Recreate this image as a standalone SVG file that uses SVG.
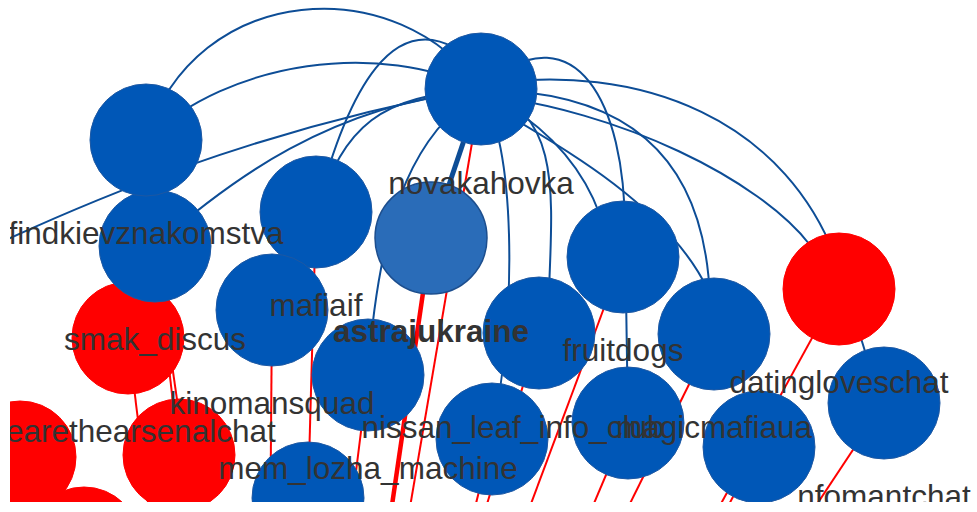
<svg xmlns="http://www.w3.org/2000/svg" width="977" height="512" viewBox="0 0 977 512">
<defs>
<clipPath id="view"><rect x="10" y="0" width="967" height="502"/></clipPath>
</defs>
<style>
.eb{fill:none;stroke:#0d4d96;stroke-width:2}
.ebt{fill:none;stroke:#0d4d96;stroke-width:5}
.er{fill:none;stroke:#ff0000;stroke-width:2}
.ert{fill:none;stroke:#ff0000;stroke-width:4.5}
.nb{fill:#0057b7;stroke:#1d58a3;stroke-width:1}
.nh{fill:#2a6cb8;stroke:#1c4e8e;stroke-width:1.5}
.nr{fill:#ff0000;stroke:#ff0000;stroke-width:1}
.lb{font-family:"Liberation Sans",Arial,sans-serif;font-size:31.5px;fill:#333333;text-anchor:middle}
.bold{font-weight:bold}
</style>
<rect width="977" height="512" fill="#ffffff"/>
<g clip-path="url(#view)">
<g id="connectors">
<path class="er" d="M481,90 L401,560"/>
<path class="ert" d="M431,238 L384,560"/>
<path class="er" d="M316,212 L308,498"/>
<path class="er" d="M272,310 L270,560"/>
<path class="er" d="M155,246 L179,455"/>
<path class="er" d="M155,246 L200,560"/>
<path class="er" d="M128,338 L155,560"/>
<path class="er" d="M368,375 L345,560"/>
<path class="er" d="M623,257 L510,560"/>
<path class="er" d="M539,333 L470,560"/>
<path class="er" d="M492,439 L462,560"/>
<path class="er" d="M714,334 L602,560"/>
<path class="er" d="M628,423 L570,560"/>
<path class="er" d="M839,289 L690,560"/>
<path class="er" d="M759,447 L700,560"/>
<path class="er" d="M884,403 L780,560"/>
<path class="eb" d="M146,140 C195,-20 400,-30 481,90"/>
<path class="eb" d="M146,140 C230,60 380,40 481,90"/>
<path class="eb" d="M-20,252 C80,205 250,130 481,88"/>
<path class="eb" d="M155,246 C230,180 330,105 481,90"/>
<path class="eb" d="M316,212 C350,80 395,15 455,48"/>
<path class="eb" d="M316,212 C345,125 380,95 481,90"/>
<path class="ebt" d="M431,238 L481,90"/>
<path class="eb" d="M481,90 C420,130 380,200 368,375"/>
<path class="eb" d="M481,90 C515,150 518,300 492,439"/>
<path class="eb" d="M490,80 C575,15 625,100 625,230 L628,423"/>
<path class="eb" d="M481,90 C540,120 580,160 600,215"/>
<path class="eb" d="M481,90 C560,110 553,190 549,290"/>
<path class="eb" d="M481,90 C620,90 705,150 710,300"/>
<path class="eb" d="M481,100 C570,150 670,210 708,290"/>
<path class="eb" d="M481,95 C620,110 760,180 810,245"/>
<path class="eb" d="M481,85 C640,60 790,120 840,270 L880,400"/>
</g>
<g id="node-wearethearsenalchat"><circle class="nr" cx="20" cy="457" r="56"/></g>
<g id="node-red-bottom"><circle class="nr" cx="84" cy="543" r="56"/></g>
<g id="node-kinomansquad-red"><circle class="nr" cx="179" cy="455" r="56"/></g>
<g id="node-smak-red"><circle class="nr" cx="128" cy="338" r="56"/></g>
<g id="node-smak_discus"><circle class="nb" cx="155" cy="246" r="56"/></g>
<g id="node-findkievznakomstva"><circle class="nb" cx="146" cy="140" r="56"/></g>
<g id="node-mafiaif"><circle class="nb" cx="316" cy="212" r="56"/></g>
<g id="node-kinomansquad"><circle class="nb" cx="272" cy="310" r="56"/></g>
<g id="node-mem_lozha_machine"><circle class="nb" cx="368" cy="375" r="56"/></g>
<g id="node-bottom-mid"><circle class="nb" cx="308" cy="498" r="56"/></g>
<g id="node-novakahovka"><circle class="nb" cx="481" cy="89" r="56"/></g>
<g id="node-astrajukraine"><circle class="nh" cx="431" cy="238" r="56"/></g>
<g id="node-fruitdogs"><circle class="nb" cx="623" cy="257" r="56"/></g>
<g id="node-nissan_leaf_info_club"><circle class="nb" cx="539" cy="333" r="56"/></g>
<g id="node-magicmafiaua"><circle class="nb" cx="714" cy="334" r="56"/></g>
<g id="node-datingloveschat"><circle class="nr" cx="839" cy="289" r="56"/></g>
<g id="node-lower-1"><circle class="nb" cx="492" cy="439" r="56"/></g>
<g id="node-lower-2"><circle class="nb" cx="628" cy="423" r="56"/></g>
<g id="node-lower-3"><circle class="nb" cx="759" cy="447" r="56"/></g>
<g id="node-nfomantchat"><circle class="nb" cx="884" cy="403" r="56"/></g>
<g id="labels">
<text class="lb" x="481" y="194">novakahovka</text>
<text class="lb" x="146" y="244">findkievznakomstva</text>
<text class="lb" x="155" y="350">smak_discus</text>
<text class="lb" x="316" y="316">mafiaif</text>
<text class="lb bold" x="431" y="342">astrajukraine</text>
<text class="lb" x="623" y="361">fruitdogs</text>
<text class="lb" x="839" y="393">datingloveschat</text>
<text class="lb" x="272" y="414">kinomansquad</text>
<text class="lb" x="6" y="442" style="text-anchor:start">earethearsenalchat</text>
<text class="lb" x="368" y="479">mem_lozha_machine</text>
<text class="lb" x="513" y="438">nissan_leaf_info_club</text>
<text class="lb" x="714" y="438">magicmafiaua</text>
<text class="lb" x="884" y="507">nfomantchat</text>
</g>
</g>
</svg>
